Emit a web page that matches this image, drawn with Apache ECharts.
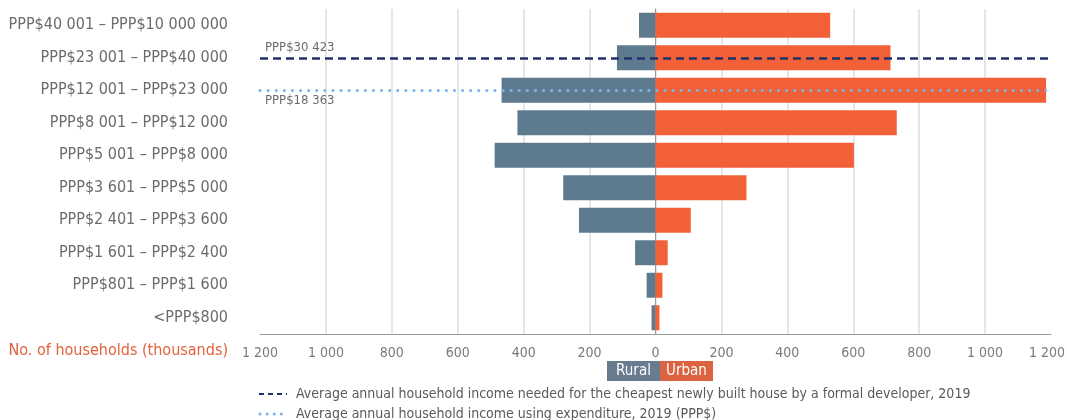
<!DOCTYPE html>
<html>
<head>
<meta charset="utf-8">
<script src="https://cdn.jsdelivr.net/npm/echarts@6/dist/echarts.min.js"></script>
<style>
html,body{margin:0;padding:0;background:#fff;}
#chart{width:1067px;height:420px;}
</style>
</head>
<body>
<div id="chart"></div>
<script>
var categories = [
  'PPP$40 001 – PPP$10 000 000',
  'PPP$23 001 – PPP$40 000',
  'PPP$12 001 – PPP$23 000',
  'PPP$8 001 – PPP$12 000',
  'PPP$5 001 – PPP$8 000',
  'PPP$3 601 – PPP$5 000',
  'PPP$2 401 – PPP$3 600',
  'PPP$1 601 – PPP$2 400',
  'PPP$801 – PPP$1 600',
  '<PPP$800'
];
var rural = [50, 117, 467, 419, 488, 280, 232, 62, 27, 12];
var urban = [530, 713, 1185, 732, 602, 276, 107, 37, 21, 12];
var refLines = [
  {category: 'PPP$23 001 – PPP$40 000', label: 'PPP$30 423'},
  {category: 'PPP$12 001 – PPP$23 000', label: 'PPP$18 363'}
];
var legendTexts = [
  'Average annual household income needed for the cheapest newly built house by a formal developer, 2019',
  'Average annual household income using expenditure, 2019 (PPP$)'
];
var xTicks = {min: -1200, max: 1200, interval: 200};

var FONT = "'Liberation Sans Narrow', 'DejaVu Sans Condensed', 'Roboto', sans-serif";
function fmt(v) {
  var s = String(Math.abs(v)).replace(/\B(?=(\d{3})+(?!\d))/g, ' ');
  if (v === xTicks.max) return '{m|' + s + '}';
  return s;
}

var chart = echarts.init(document.getElementById('chart'));
chart.setOption({
  animation: false,
  textStyle: {fontFamily: FONT},
  grid: {left: 260, right: 16, top: 9, bottom: 86, containLabel: false, outerBoundsMode: 'none'},
  xAxis: {
    type: 'value',
    min: xTicks.min, max: xTicks.max, interval: xTicks.interval,
    axisLine: {show: true, onZero: false, lineStyle: {color: '#9a9a9a', width: 1}},
    axisTick: {show: false},
    axisLabel: {formatter: fmt, color: '#7a7a7a', fontSize: 14, margin: 12, fontFamily: FONT,
      rich: {m: {padding: [0, 8, 0, 0], color: '#7a7a7a', fontSize: 14, fontFamily: FONT}}},
    splitLine: {show: true, showMinLine: false, showMaxLine: false, lineStyle: {color: '#dedede', width: 1.5}}
  },
  yAxis: {
    type: 'category',
    data: categories,
    inverse: true,
    axisLine: {show: true, lineStyle: {color: '#9a9a9a', width: 1}},
    axisTick: {show: false},
    axisLabel: {color: '#6b6b6b', fontSize: 16, margin: 32, fontFamily: FONT}
  },
  series: [
    {
      name: 'Rural', type: 'bar', stack: 'all',
      data: rural.map(function (v) { return -v; }),
      barWidth: 25,
      itemStyle: {color: '#5e7a8f'}
    },
    {
      name: 'Urban', type: 'bar', stack: 'all',
      data: urban,
      barWidth: 25,
      itemStyle: {color: '#f26038'},
      markLine: {
        symbol: ['none', 'none'],
        silent: true,
        data: [
          {
            yAxis: refLines[0].category,
            lineStyle: {color: '#22306a', width: 2.5, type: [8, 5]},
            label: {show: true, position: 'insideStartTop', formatter: refLines[0].label,
              color: '#6b6b6b', fontSize: 13, fontFamily: FONT, distance: [5, 4]}
          },
          {
            yAxis: refLines[1].category,
            lineStyle: {color: '#7fb2e5', width: 3, type: [0.1, 8], cap: 'round'},
            label: {show: true, position: 'insideStartBottom', formatter: refLines[1].label,
              color: '#6b6b6b', fontSize: 13, fontFamily: FONT, distance: [5, 4]}
          }
        ]
      }
    }
  ],
  graphic: [
    {type: 'text', x: 228, y: 351,
      style: {text: 'No. of households (thousands)', fill: '#e2613c', font: '16px ' + FONT, align: 'right', verticalAlign: 'middle'}},
    {type: 'rect', x: 607, y: 361, shape: {width: 53, height: 20}, style: {fill: '#687b8f'}},
    {type: 'rect', x: 660, y: 361, shape: {width: 53, height: 20}, style: {fill: '#dc633f'}},
    {type: 'text', x: 633.5, y: 371, style: {text: 'Rural', fill: '#fff', font: '15px ' + FONT, align: 'center', verticalAlign: 'middle'}},
    {type: 'text', x: 686.5, y: 371, style: {text: 'Urban', fill: '#fff', font: '15px ' + FONT, align: 'center', verticalAlign: 'middle'}},
    {type: 'line', shape: {x1: 259, y1: 394, x2: 287, y2: 394},
      style: {stroke: '#22306a', lineWidth: 2, lineDash: [5, 4]}},
    {type: 'text', x: 296, y: 394, style: {text: legendTexts[0], fill: '#5a5a5a', font: '14px ' + FONT, align: 'left', verticalAlign: 'middle'}},
    {type: 'line', shape: {x1: 260, y1: 414, x2: 287, y2: 414},
      style: {stroke: '#7fb2e5', lineWidth: 3, lineDash: [0.1, 7], lineCap: 'round'}},
    {type: 'text', x: 296, y: 414, style: {text: legendTexts[1], fill: '#5a5a5a', font: '14px ' + FONT, align: 'left', verticalAlign: 'middle'}}
  ]
});
</script>
</body>
</html>
